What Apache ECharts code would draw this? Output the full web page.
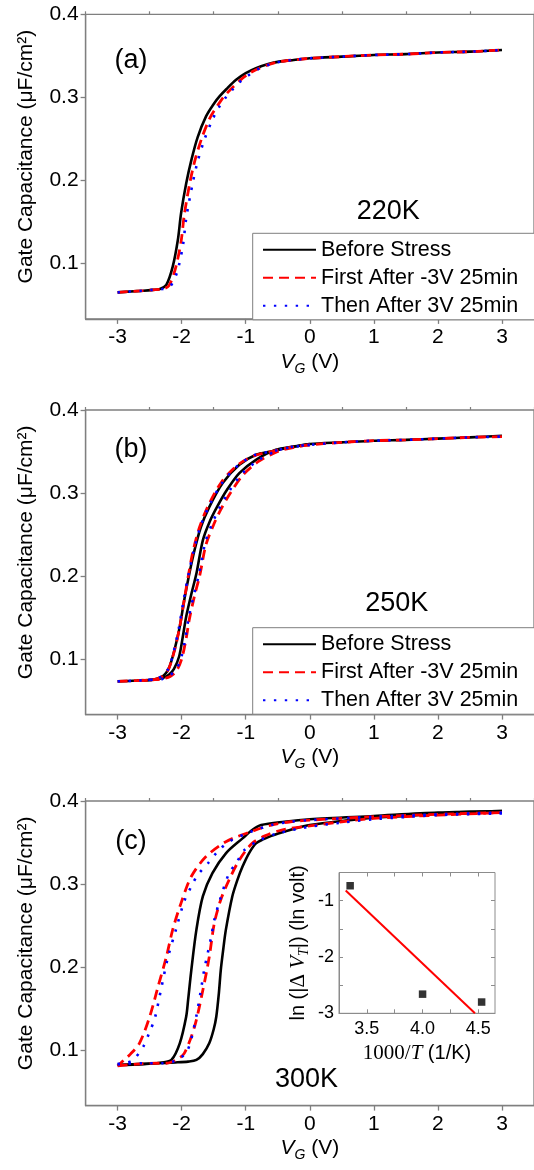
<!DOCTYPE html>
<html>
<head>
<meta charset="utf-8">
<script src="https://cdn.jsdelivr.net/npm/echarts@6/dist/echarts.min.js"></script>
<style>
  html, body { margin: 0; padding: 0; background: #fff; }
  #chart { width: 534px; height: 1170px; }
</style>
</head>
<body>
<div id="chart"></div>
<script>
// Gate C–V curves before/after bias stress at three temperatures,
// plus an Arrhenius-style inset of the threshold shift.

// ---- axis ticks ----
const voltTicks = [-3, -2, -1, 0, 1, 2, 3];
const voltMinor = [-3.5, -2.5, -1.5, -0.5, 0.5, 1.5, 2.5, 3.5];
const capTicks = [0.1, 0.2, 0.3, 0.4];
const capMinor = [0.05, 0.15, 0.25, 0.35];
const invTTicks = [3.5, 4.0, 4.5];
const invTMinor = [3.5, 3.75, 4.0, 4.25, 4.5];
const lnTicks = [-3, -2, -1];
const lnMinor = [-3, -2.5, -2, -1.5, -1];

const seriesNames = ['Before Stress', 'First After -3V 25min', 'Then After 3V 25min'];

// ---- (a) 220 K : [V_G, C] ----
const aBefore = [[-3,0.065],[-2.8,0.066],[-2.6,0.067],[-2.45,0.068],[-2.34,0.069],[-2.24,0.074],[-2.14,0.096],[-2.06,0.128],[-2.01,0.160],[-1.93,0.196],[-1.85,0.224],[-1.75,0.252],[-1.62,0.277],[-1.50,0.292],[-1.41,0.301],[-1.30,0.310],[-1.15,0.321],[-1.00,0.329],[-0.84,0.335],[-0.65,0.340],[-0.48,0.343],[-0.25,0.345],[0,0.347],[0.5,0.349],[1,0.351],[1.5,0.352],[2,0.354],[2.5,0.355],[3,0.357]];
const aFirst = [[-3,0.065],[-2.8,0.066],[-2.6,0.067],[-2.45,0.068],[-2.3,0.069],[-2.2,0.073],[-2.1,0.093],[-2.01,0.126],[-1.96,0.158],[-1.88,0.194],[-1.80,0.222],[-1.69,0.250],[-1.56,0.275],[-1.44,0.290],[-1.35,0.300],[-1.23,0.310],[-1.08,0.321],[-0.94,0.329],[-0.79,0.335],[-0.62,0.340],[-0.46,0.343],[-0.25,0.345],[0,0.347],[0.5,0.349],[1,0.351],[1.5,0.352],[2,0.354],[2.5,0.355],[3,0.357]];
const aThen = [[-3,0.065],[-2.8,0.066],[-2.6,0.067],[-2.45,0.068],[-2.3,0.069],[-2.18,0.072],[-2.07,0.090],[-1.98,0.122],[-1.93,0.154],[-1.84,0.192],[-1.76,0.220],[-1.65,0.248],[-1.52,0.273],[-1.41,0.289],[-1.32,0.299],[-1.21,0.309],[-1.07,0.320],[-0.93,0.328],[-0.78,0.335],[-0.61,0.340],[-0.45,0.343],[-0.25,0.345],[0,0.347],[0.5,0.349],[1,0.351],[1.5,0.352],[2,0.354],[2.5,0.355],[3,0.357]];

// ---- (b) 250 K : up-sweep and down-sweep branches ----
const bBeforeUp = [[-3,0.073],[-2.7,0.074],[-2.45,0.075],[-2.3,0.077],[-2.2,0.081],[-2.12,0.088],[-2.04,0.103],[-1.98,0.128],[-1.93,0.151],[-1.85,0.178],[-1.77,0.203],[-1.67,0.243],[-1.56,0.266],[-1.45,0.283],[-1.30,0.303],[-1.10,0.324],[-0.84,0.340],[-0.53,0.352],[-0.25,0.356],[0,0.359],[0.5,0.361],[1,0.363],[1.5,0.364],[2,0.3655],[2.5,0.367],[3,0.369]];
const bBeforeDown = [[0,0.359],[-0.3,0.355],[-0.6,0.350],[-0.84,0.346],[-1.10,0.334],[-1.36,0.312],[-1.57,0.283],[-1.70,0.259],[-1.80,0.231],[-1.88,0.203],[-1.96,0.171],[-2.03,0.139],[-2.09,0.118],[-2.14,0.103],[-2.20,0.089],[-2.28,0.080],[-2.40,0.076],[-2.60,0.074]];
const bFirstUp = [[-3,0.073],[-2.7,0.074],[-2.45,0.075],[-2.3,0.076],[-2.18,0.079],[-2.08,0.086],[-2.00,0.100],[-1.93,0.125],[-1.88,0.148],[-1.80,0.176],[-1.72,0.200],[-1.62,0.238],[-1.50,0.262],[-1.39,0.280],[-1.24,0.300],[-1.04,0.322],[-0.80,0.338],[-0.50,0.350],[-0.25,0.355],[0,0.358],[0.5,0.361],[1,0.363],[1.5,0.364],[2,0.3655],[2.5,0.367],[3,0.368]];
const bFirstDown = [[0,0.358],[-0.3,0.355],[-0.6,0.350],[-0.86,0.345],[-1.12,0.334],[-1.38,0.313],[-1.59,0.284],[-1.72,0.259],[-1.82,0.231],[-1.89,0.203],[-1.96,0.171],[-2.03,0.139],[-2.09,0.117],[-2.15,0.100],[-2.21,0.087],[-2.30,0.079],[-2.45,0.075],[-2.70,0.074]];
const bThenUp = [[-3,0.073],[-2.7,0.074],[-2.45,0.075],[-2.3,0.076],[-2.19,0.080],[-2.09,0.087],[-2.01,0.101],[-1.94,0.126],[-1.89,0.150],[-1.81,0.177],[-1.73,0.202],[-1.63,0.241],[-1.52,0.264],[-1.41,0.282],[-1.26,0.302],[-1.06,0.323],[-0.81,0.339],[-0.51,0.351],[-0.25,0.356],[0,0.358],[0.5,0.361],[1,0.363],[1.5,0.364],[2,0.3655],[2.5,0.367],[3,0.368]];
const bThenDown = [[0,0.358],[-0.3,0.355],[-0.6,0.350],[-0.85,0.346],[-1.11,0.334],[-1.37,0.312],[-1.58,0.283],[-1.71,0.259],[-1.81,0.231],[-1.89,0.203],[-1.97,0.171],[-2.04,0.139],[-2.10,0.117],[-2.15,0.101],[-2.21,0.088],[-2.29,0.080],[-2.42,0.076],[-2.65,0.074]];

// ---- (c) 300 K : up-sweep and down-sweep branches ----
const cBeforeUp = [[-3,0.082],[-2.7,0.083],[-2.4,0.084],[-2.1,0.085],[-1.9,0.086],[-1.77,0.088],[-1.67,0.095],[-1.57,0.108],[-1.50,0.125],[-1.46,0.140],[-1.42,0.168],[-1.39,0.196],[-1.35,0.222],[-1.31,0.245],[-1.21,0.285],[-1.13,0.305],[-1.05,0.321],[-0.95,0.337],[-0.84,0.349],[-0.72,0.354],[-0.60,0.358],[-0.40,0.363],[-0.23,0.367],[0,0.371],[0.5,0.376],[1,0.380],[1.5,0.382],[2,0.385],[2.5,0.387],[3,0.388]];
const cBeforeDown = [[3,0.388],[2,0.386],[1,0.382],[0,0.378],[-0.4,0.375],[-0.76,0.371],[-0.90,0.365],[-1.05,0.355],[-1.31,0.337],[-1.52,0.313],[-1.67,0.285],[-1.77,0.245],[-1.85,0.196],[-1.90,0.160],[-1.93,0.140],[-2.03,0.108],[-2.16,0.088],[-2.30,0.085],[-2.60,0.083],[-3,0.082]];
const cFirstUp = [[-3,0.081],[-2.7,0.083],[-2.4,0.084],[-2.24,0.084],[-2.09,0.088],[-1.96,0.096],[-1.80,0.128],[-1.67,0.172],[-1.57,0.212],[-1.49,0.253],[-1.39,0.281],[-1.26,0.305],[-1.10,0.329],[-0.90,0.349],[-0.70,0.358],[-0.44,0.365],[0,0.370],[0.5,0.375],[1,0.379],[2,0.383],[3,0.386]];
const cFirstDown = [[3,0.386],[2,0.384],[1,0.381],[0,0.377],[-0.3,0.375],[-0.6,0.371],[-0.92,0.363],[-1.31,0.351],[-1.62,0.333],[-1.85,0.309],[-2.01,0.277],[-2.14,0.245],[-2.24,0.212],[-2.37,0.176],[-2.50,0.140],[-2.66,0.108],[-2.80,0.095],[-2.90,0.088],[-3,0.081]];
const cThenUp = [[-3,0.083],[-2.6,0.084],[-2.3,0.084],[-2.1,0.087],[-1.92,0.098],[-1.80,0.130],[-1.70,0.172],[-1.65,0.196],[-1.54,0.236],[-1.49,0.257],[-1.41,0.279],[-1.26,0.313],[-1.15,0.325],[-1.02,0.341],[-0.80,0.352],[-0.50,0.361],[0,0.369],[0.5,0.374],[1,0.378],[2,0.383],[3,0.385]];
const cThenDown = [[3,0.386],[2,0.384],[1,0.381],[0,0.377],[-0.3,0.375],[-0.6,0.371],[-0.92,0.363],[-1.26,0.351],[-1.44,0.339],[-1.59,0.325],[-1.75,0.311],[-1.85,0.297],[-1.96,0.279],[-2.09,0.245],[-2.22,0.210],[-2.32,0.174],[-2.42,0.138],[-2.50,0.122],[-2.60,0.104],[-2.76,0.088],[-2.90,0.084],[-3,0.083]];

// ---- inset: ln|dV_T| vs 1000/T ----
const insetPoints = [[3.35,-0.735],[4.0,-2.66],[4.53,-2.80]];
const insetFit = [[3.31,-0.82],[4.47,-3.0]];

// ---- styling ----
const SANS = "'Liberation Sans', Arial, Helvetica, sans-serif";
const SERIF = "'Liberation Serif', 'Times New Roman', serif";
const AX = '#7f7f7f';
const LINE_STYLES = [
  { color: '#000000', width: 2.6, type: 'solid' },
  { color: '#ff0000', width: 2.8, type: [10, 6] },
  { color: '#0000ff', width: 2.6, type: [2.4, 8.5] }
];

// main panel frames (pixels)
const PANEL_TOPS = [14.3, 410, 801];
const PANEL_LEFT = 85.6, PANEL_W = 450.8, PANEL_H = 304.6;

const grids = PANEL_TOPS.map(t => ({
  left: PANEL_LEFT, top: t, width: PANEL_W, height: PANEL_H,
  show: true, borderColor: AX, borderWidth: 1.3, backgroundColor: 'transparent'
}));
grids.push({ left: 339, top: 872.5, width: 156, height: 140.8,
  show: true, borderColor: '#8c8c8c', borderWidth: 1, backgroundColor: '#fff' });

const xAxes = [], yAxes = [];
PANEL_TOPS.forEach((t, i) => {
  xAxes.push({
    type: 'value', gridIndex: i, min: -3.5, max: 3.5,
    axisLine: { show: true, onZero: false, lineStyle: { color: AX, width: 1.3 } },
    axisTick: { show: true, inside: false, length: 5, customValues: voltTicks, lineStyle: { color: AX, width: 1.3 } },
    axisLabel: { show: true, customValues: voltTicks, margin: 8, fontSize: 21, color: '#000', fontFamily: SANS },
    splitLine: { show: false },
    name: '{v|V}{g|G}{u| (V)}', nameLocation: 'middle', nameGap: 29,
    nameTextStyle: { rich: {
      v: { fontSize: 21, fontStyle: 'italic', fontFamily: SANS, color: '#000' },
      g: { fontSize: 14, fontStyle: 'italic', fontFamily: SANS, color: '#000', padding: [14, 0, 0, 0] },
      u: { fontSize: 21, fontFamily: SANS, color: '#000' }
    } }
  });
  yAxes.push({
    type: 'value', gridIndex: i, min: 0.033, max: 0.4,
    axisLine: { show: true, onZero: false, lineStyle: { color: AX, width: 1.3 } },
    axisTick: { show: true, inside: false, length: 5, customValues: capTicks, lineStyle: { color: AX, width: 1.3 } },
    axisLabel: { show: true, customValues: capTicks, margin: 7, fontSize: 21, color: '#000', fontFamily: SANS,
      formatter: v => v.toFixed(1) },
    splitLine: { show: false },
    name: 'Gate Capacitance (\u03bcF/cm\u00b2)', nameLocation: 'middle', nameGap: 49,
    nameTextStyle: { fontSize: 21, fontFamily: SANS, color: '#000', padding: [0, 0, 0, 20] }
  });
});
// minor ticks of the main panels
PANEL_TOPS.forEach((t, i) => {
  xAxes.push({
    type: 'value', gridIndex: i, min: -3.5, max: 3.5,
    axisLine: { show: false, onZero: false },
    axisTick: { show: true, inside: false, length: 3, customValues: voltMinor, lineStyle: { color: AX, width: 1.2 } },
    axisLabel: { show: false }, splitLine: { show: false }
  });
  yAxes.push({
    type: 'value', gridIndex: i, min: 0.033, max: 0.4,
    axisLine: { show: false, onZero: false },
    axisTick: { show: true, inside: false, length: 3, customValues: capMinor, lineStyle: { color: AX, width: 1.2 } },
    axisLabel: { show: false }, splitLine: { show: false }
  });
});
// inset axes
xAxes.push({
  type: 'value', gridIndex: 3, min: 3.25, max: 4.65,
  axisLine: { show: true, onZero: false, lineStyle: { color: '#8c8c8c', width: 1 } },
  axisTick: { show: true, inside: true, length: 4, customValues: invTMinor, lineStyle: { color: '#8c8c8c' } },
  axisLabel: { show: true, customValues: invTTicks, margin: 7, fontSize: 18, color: '#000', fontFamily: SANS,
    formatter: v => v.toFixed(1) },
  splitLine: { show: false },
  name: '{s|1000/}{t|T}{u| (1/K)}', nameLocation: 'middle', nameGap: 30,
  nameTextStyle: { rich: {
    s: { fontSize: 21, fontFamily: SERIF, color: '#000' },
    t: { fontSize: 21, fontFamily: SERIF, fontStyle: 'italic', color: '#000' },
    u: { fontSize: 20, fontFamily: SANS, color: '#000' }
  } }
});
xAxes.push({
  type: 'value', gridIndex: 3, min: 3.25, max: 4.65, position: 'top',
  axisLine: { show: false, onZero: false },
  axisTick: { show: true, inside: true, length: 4, customValues: invTMinor, lineStyle: { color: '#8c8c8c' } },
  axisLabel: { show: false }, splitLine: { show: false }
});
yAxes.push({
  type: 'value', gridIndex: 3, min: -3, max: -0.5,
  axisLine: { show: true, onZero: false, lineStyle: { color: '#8c8c8c', width: 1 } },
  axisTick: { show: true, inside: true, length: 4, customValues: lnMinor, lineStyle: { color: '#8c8c8c' } },
  axisLabel: { show: true, customValues: lnTicks, margin: 5, fontSize: 18, color: '#000', fontFamily: SANS },
  splitLine: { show: false },
  name: '{a|ln (|}{d|\u0394 }{v|V}{t|T}{a||) (ln volt)}', nameLocation: 'middle', nameGap: 28,
  nameTextStyle: { rich: {
    a: { fontSize: 20, fontFamily: SANS, color: '#000' },
    d: { fontSize: 21, fontFamily: SERIF, color: '#000' },
    v: { fontSize: 21, fontFamily: SERIF, fontStyle: 'italic', color: '#000' },
    t: { fontSize: 14, fontFamily: SERIF, fontStyle: 'italic', color: '#000', padding: [12, 0, 0, 0] }
  } }
});
yAxes.push({
  type: 'value', gridIndex: 3, min: -3, max: -0.5, position: 'right',
  axisLine: { show: false, onZero: false },
  axisTick: { show: true, inside: true, length: 4, customValues: lnMinor, lineStyle: { color: '#8c8c8c' } },
  axisLabel: { show: false }, splitLine: { show: false }
});

function curve(name, idx, panel, data) {
  return {
    type: 'line', name: name, xAxisIndex: panel, yAxisIndex: panel,
    data: data, showSymbol: false, symbol: 'none', smooth: 0.3,
    lineStyle: LINE_STYLES[idx], itemStyle: { color: LINE_STYLES[idx].color },
    z: 2 + idx, silent: true
  };
}

const series = [
  curve(seriesNames[0], 0, 0, aBefore),
  curve(seriesNames[1], 1, 0, aFirst),
  curve(seriesNames[2], 2, 0, aThen),
  curve(seriesNames[0], 0, 1, bBeforeUp),
  curve(seriesNames[0], 0, 1, bBeforeDown),
  curve(seriesNames[1], 1, 1, bFirstUp),
  curve(seriesNames[1], 1, 1, bFirstDown),
  curve(seriesNames[2], 2, 1, bThenUp),
  curve(seriesNames[2], 2, 1, bThenDown),
  curve(seriesNames[0], 0, 2, cBeforeUp),
  curve(seriesNames[0], 0, 2, cBeforeDown),
  curve(seriesNames[1], 1, 2, cFirstUp),
  curve(seriesNames[1], 1, 2, cFirstDown),
  curve(seriesNames[2], 2, 2, cThenUp),
  curve(seriesNames[2], 2, 2, cThenDown),
  {
    type: 'line', name: 'fit', xAxisIndex: 6, yAxisIndex: 6, data: insetFit,
    showSymbol: false, symbol: 'none', lineStyle: { color: '#ff0000', width: 2 }, z: 5, silent: true
  },
  {
    type: 'scatter', name: 'shift', xAxisIndex: 6, yAxisIndex: 6, data: insetPoints,
    symbol: 'rect', symbolSize: 7.5, itemStyle: { color: '#000' }, z: 6, silent: true
  }
];

function legendAt(top) {
  return {
    left: 252.7, top: top, orient: 'vertical',
    itemWidth: 53, itemHeight: 14, itemGap: 6,
    padding: [5.5, 40, 3, 9.3],
    borderColor: '#7f7f7f', borderWidth: 1, backgroundColor: '#fff',
    selectedMode: false, data: seriesNames,
    itemStyle: { opacity: 0, borderWidth: 0 },
    textStyle: { fontSize: 21.5, color: '#000', fontFamily: SANS }
  };
}

const chart = echarts.init(document.getElementById('chart'), null, { renderer: 'canvas' });
chart.setOption({
  animation: false,
  backgroundColor: '#fff',
  grid: grids,
  xAxis: xAxes,
  yAxis: yAxes,
  legend: [legendAt(233.3), legendAt(627.7)],
  series: series,
  graphic: [
    { type: 'text', x: 131, y: 61, style: { text: '(a)', fontSize: 27, fontFamily: SANS, fill: '#000', align: 'center', verticalAlign: 'middle' } },
    { type: 'text', x: 131, y: 450, style: { text: '(b)', fontSize: 27, fontFamily: SANS, fill: '#000', align: 'center', verticalAlign: 'middle' } },
    { type: 'text', x: 131, y: 841.7, style: { text: '(c)', fontSize: 27, fontFamily: SANS, fill: '#000', align: 'center', verticalAlign: 'middle' } },
    { type: 'text', x: 388.3, y: 211.7, style: { text: '220K', fontSize: 27, fontFamily: SANS, fill: '#000', align: 'center', verticalAlign: 'middle' } },
    { type: 'text', x: 396.8, y: 604, style: { text: '250K', fontSize: 27, fontFamily: SANS, fill: '#000', align: 'center', verticalAlign: 'middle' } },
    { type: 'text', x: 306.5, y: 1080, style: { text: '300K', fontSize: 27, fontFamily: SANS, fill: '#000', align: 'center', verticalAlign: 'middle' } }
  ]
});
</script>
</body>
</html>
